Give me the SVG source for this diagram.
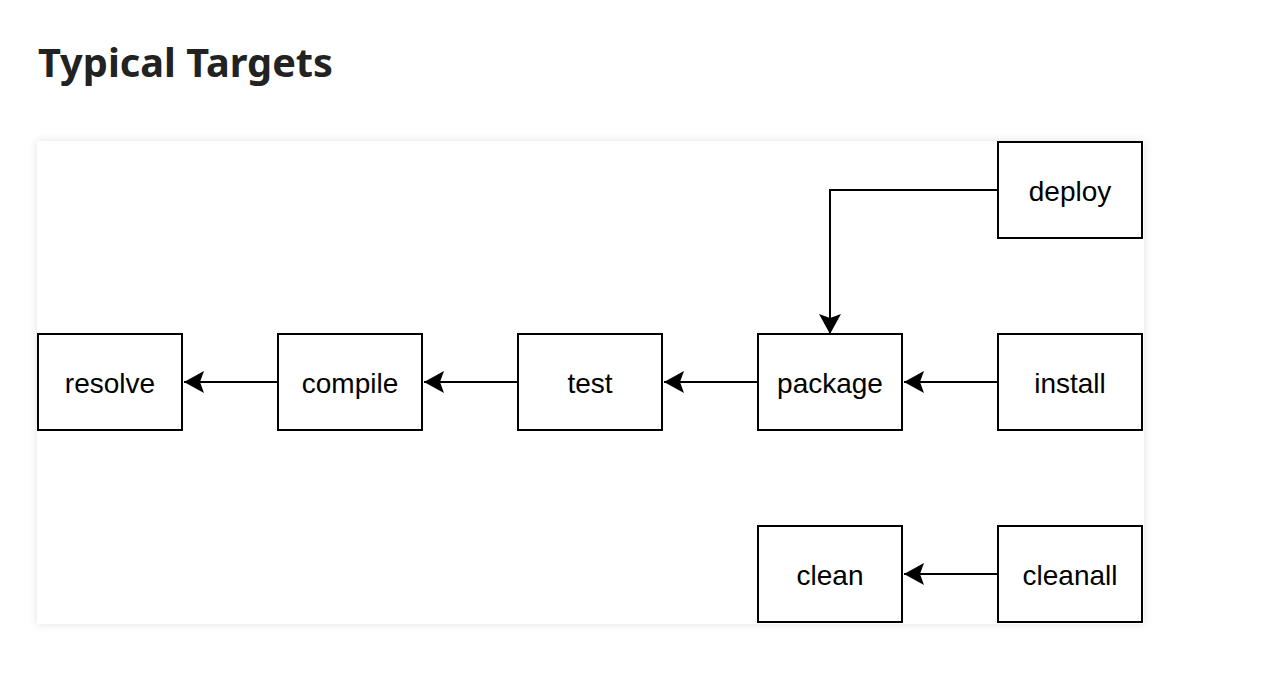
<svg xmlns="http://www.w3.org/2000/svg" width="1269" height="695" viewBox="0 0 1269 695">
<style>
.box{fill:#fff;stroke:#000;stroke-width:2}
.lbl{font-family:"Liberation Sans",Arial,sans-serif;font-size:28px;fill:#000;text-anchor:middle}
.edge{fill:none;stroke:#000;stroke-width:2}
</style>
<defs>
<filter id="sh" x="-5%" y="-5%" width="110%" height="110%">
<feDropShadow dx="0" dy="0" stdDeviation="4" flood-color="#000" flood-opacity="0.12"/>
</filter>
<marker id="ar" markerUnits="userSpaceOnUse" viewBox="0 0 20 22" refX="20" refY="11" markerWidth="20" markerHeight="22" orient="auto">
<path d="M20,11 L0,0 L4,11 L0,22 Z" fill="#000"/>
</marker>
</defs>
<rect width="1269" height="695" fill="#fff"/>
<text x="38" y="77" font-family="'Source Sans Pro','Noto Sans',sans-serif" font-weight="bold" font-size="40" fill="#222" textLength="295" lengthAdjust="spacingAndGlyphs">Typical Targets</text>
<rect x="37" y="141" width="1107" height="483" fill="#fff" filter="url(#sh)"/>
<g id="resolve"><rect class="box" x="38" y="334" width="144" height="96"/><text class="lbl" x="110" y="393">resolve</text></g>
<g id="compile"><rect class="box" x="278" y="334" width="144" height="96"/><text class="lbl" x="350" y="393">compile</text></g>
<g id="test"><rect class="box" x="518" y="334" width="144" height="96"/><text class="lbl" x="590" y="393">test</text></g>
<g id="package"><rect class="box" x="758" y="334" width="144" height="96"/><text class="lbl" x="830" y="393">package</text></g>
<g id="install"><rect class="box" x="998" y="334" width="144" height="96"/><text class="lbl" x="1070" y="393">install</text></g>
<g id="deploy"><rect class="box" x="998" y="142" width="144" height="96"/><text class="lbl" x="1070" y="201">deploy</text></g>
<g id="clean"><rect class="box" x="758" y="526" width="144" height="96"/><text class="lbl" x="830" y="585">clean</text></g>
<g id="cleanall"><rect class="box" x="998" y="526" width="144" height="96"/><text class="lbl" x="1070" y="585">cleanall</text></g>
<g id="connectors">
<path class="edge" d="M278,382 H184" marker-end="url(#ar)"/>
<path class="edge" d="M518,382 H424" marker-end="url(#ar)"/>
<path class="edge" d="M758,382 H664" marker-end="url(#ar)"/>
<path class="edge" d="M998,382 H904" marker-end="url(#ar)"/>
<path class="edge" d="M998,574 H904" marker-end="url(#ar)"/>
<path class="edge" d="M998,190 H830 V334" marker-end="url(#ar)"/>
</g>
</svg>
